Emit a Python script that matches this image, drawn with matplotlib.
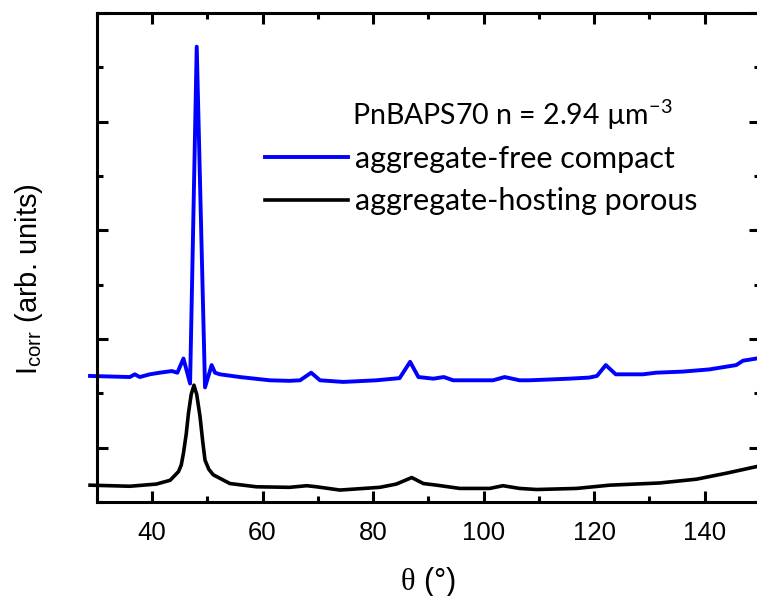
import numpy as np
import matplotlib
matplotlib.use('Agg')
import matplotlib.pyplot as plt
from matplotlib.ticker import MultipleLocator, FixedLocator, NullFormatter

plt.rcParams['font.family'] = ['Liberation Sans', 'DejaVu Sans']
plt.rcParams['mathtext.fontset'] = 'custom'
plt.rcParams['mathtext.rm'] = 'Liberation Serif'
plt.rcParams['mathtext.sf'] = 'Liberation Sans'
plt.rcParams['mathtext.bf'] = 'Lato'

# aggregate-free compact (blue), scattering angle vs corrected intensity
theta_compact = [28.8, 36.0, 36.9, 37.8, 39.6, 41.4, 43.6, 44.6, 45.7, 46.9,
                 48.1, 49.6, 50.8, 51.4, 52.3, 55.9, 61.3, 64.9, 66.8, 68.8,
                 70.4, 74.6, 80.6, 84.8, 86.7, 88.2, 90.9, 92.8, 94.5, 101.7,
                 103.8, 106.5, 108.3, 115.5, 119.1, 120.5, 122.1, 123.9, 128.8,
                 131.2, 136.0, 140.8, 145.7, 146.9, 149.3, 150.0]
i_compact = [2.32, 2.30, 2.35, 2.30, 2.35, 2.38, 2.41, 2.38, 2.64, 2.18,
             8.38, 2.11, 2.52, 2.38, 2.35, 2.30, 2.24, 2.23, 2.24, 2.38,
             2.24, 2.21, 2.24, 2.28, 2.58, 2.30, 2.27, 2.30, 2.24, 2.24,
             2.30, 2.24, 2.24, 2.27, 2.29, 2.32, 2.52, 2.35, 2.35,
             2.38, 2.40, 2.44, 2.52, 2.60, 2.64, 2.65]

# aggregate-hosting porous (black)
theta_porous = [28.8, 36.0, 40.8, 43.3, 44.8, 45.3, 45.7, 46.2, 46.6, 47.1,
                47.6, 48.1, 48.7, 49.2, 49.6, 50.3, 51.1, 54.1, 58.9, 64.9,
                68.0, 69.8, 74.0, 81.2, 84.2, 87.0, 89.1, 91.5, 95.7, 101.1,
                103.5, 106.5, 109.6, 116.8, 122.8, 131.8, 138.5, 143.9, 149.3,
                150.0]
i_porous = [0.31, 0.29, 0.33, 0.40, 0.56, 0.68, 0.90, 1.25, 1.63, 1.98,
            2.15, 1.98, 1.57, 1.10, 0.77, 0.60, 0.50, 0.34, 0.28, 0.27,
            0.30, 0.28, 0.22, 0.27, 0.33, 0.45, 0.34, 0.31, 0.25, 0.25,
            0.30, 0.25, 0.23, 0.25, 0.31, 0.35, 0.42, 0.53, 0.65,
            0.67]

labels = ['aggregate-free compact', 'aggregate-hosting porous']
colors = ['#0000ff', '#000000']
x_ticks = [40, 60, 80, 100, 120, 140]

fig = plt.figure(figsize=(7.57, 5.96), dpi=100)
ax = fig.add_axes([0.1277, 0.1577, 0.8763, 0.8205])

ax.plot(theta_compact, i_compact, color=colors[0], lw=2.8, label=labels[0],
        clip_on=False)
ax.plot(theta_porous, i_porous, color=colors[1], lw=2.6, label=labels[1],
        clip_on=False)

ax.set_xlim(30, 150)
ax.set_ylim(0, 9)
ax.xaxis.set_major_locator(FixedLocator(x_ticks))
ax.xaxis.set_minor_locator(MultipleLocator(10))
ax.yaxis.set_major_locator(FixedLocator([1, 3, 5, 7, 9]))
ax.yaxis.set_minor_locator(FixedLocator([0, 2, 4, 6, 8]))
ax.yaxis.set_major_formatter(NullFormatter())

ax.tick_params(which='both', direction='in', top=True, right=True, width=2.2)
ax.tick_params(which='major', length=8, labelsize=18.5, pad=14)
ax.tick_params(which='minor', length=4.5)
for s in ax.spines.values():
    s.set_linewidth(2.2)

ax.set_xlabel(r'$\mathrm{\theta}$ (°)', fontsize=22, labelpad=14)
fig.text(29 / 757, 1 - 279 / 596, r'I$_{\mathsf{corr}}$ (arb. units)',
         rotation=90, ha='center', va='center', fontsize=21)

ax.text(0.385, 0.792, r'PnBAPS70 n = 2.94 µm$^{\mathbf{-3}}$',
        transform=ax.transAxes, ha='left', va='center', fontsize=20.5,
        family=['Lato', 'DejaVu Sans'])
leg = ax.legend(loc='upper left', bbox_to_anchor=(0.254, 0.731), frameon=False,
                borderpad=0, borderaxespad=0, handlelength=2.7,
                handletextpad=0.23, labelspacing=0.48,
                prop={'family': ['Lato', 'DejaVu Sans'], 'size': 22})

fig.savefig('out.png', dpi=100)
